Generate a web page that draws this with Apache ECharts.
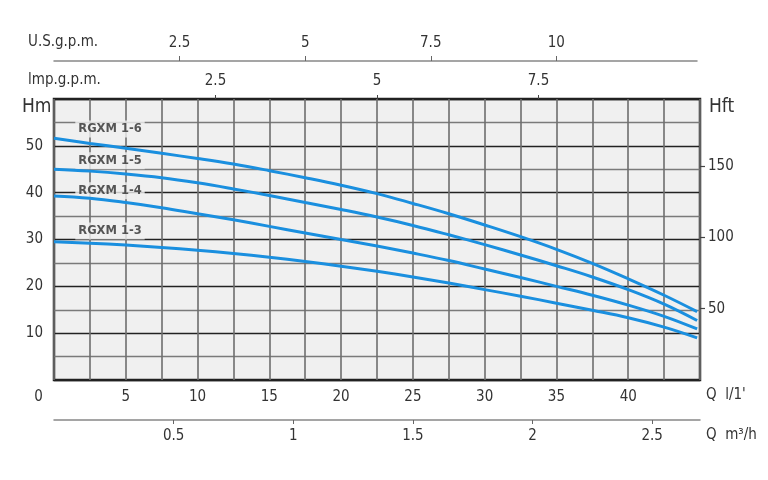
<!DOCTYPE html>
<html>
<head>
<meta charset="utf-8">
<script src="https://cdn.jsdelivr.net/npm/echarts@6/dist/echarts.min.js"></script>
<style>html,body{margin:0;padding:0;background:#fff;}#c{width:768px;height:480px;}</style>
</head>
<body>
<div id="c"></div>
<script>
// ---- data ----
const flowLmin = [0, 2.5, 5, 7.5, 10, 12.5, 15, 17.5, 20, 22.5, 25, 27.5, 30, 32.5, 35, 37.5, 40, 42.5, 44.8];
const rgxm16 = [51.6, 50.5, 49.5, 48.4, 47.3, 46.1, 44.7, 43.2, 41.6, 39.8, 37.7, 35.5, 33.1, 30.6, 27.9, 24.9, 21.6, 18.1, 14.6];
const rgxm15 = [45.0, 44.6, 44.0, 43.2, 42.1, 40.8, 39.4, 37.9, 36.4, 34.8, 33.0, 31.0, 28.9, 26.7, 24.4, 22.0, 19.3, 16.2, 12.7];
const rgxm14 = [39.3, 38.8, 37.9, 36.8, 35.5, 34.2, 32.8, 31.4, 30.0, 28.6, 27.1, 25.5, 23.7, 21.9, 20.0, 18.1, 16.0, 13.6, 10.9];
const rgxm13 = [29.5, 29.2, 28.8, 28.3, 27.7, 27.0, 26.2, 25.3, 24.3, 23.2, 22.0, 20.7, 19.3, 17.9, 16.4, 14.9, 13.3, 11.3, 9.0];
const seriesNames = ['RGXM 1-6', 'RGXM 1-5', 'RGXM 1-4', 'RGXM 1-3'];
// label anchor points (Q l/min, H m)
const labelQ = [3.9, 3.9, 3.9, 3.9];
const labelH = [53.6, 46.8, 40.4, 31.8];
// tick labels / axis ranges
const lminTicks = [0, 5, 10, 15, 20, 25, 30, 35, 40];
const hmTicks = [10, 20, 30, 40, 50];
const m3hTickRange = [0.5, 2.5, 0.5];   // first, last, step
const usTickRange = [2.5, 10, 2.5];
const impTickRange = [2.5, 7.5, 2.5];
const hftTickRange = [50, 150, 50];
const axisTitles = { us: 'U.S.g.p.m.', imp: 'lmp.g.p.m.', hm: 'Hm', hft: 'Hft', qlmin: "Q  l/1'", qm3h: 'Q  m³/h' };

// unit scales (l/min full scale 0..45, metres 0..60)
const Q_MAX = 45, H_MAX = 60;
const IMP_MAX = 10, US_MAX = 12.8, M3H_MAX = 2.7, FT_PER_M = 3.28084;

const FONT = "'DejaVu Sans Condensed', 'DejaVu Sans', sans-serif";
const TXT = '#333';
const BLUE = '#1a8fdf';

// main plot box
const PL = 54, PT = 99, PW = 646, PH = 281;
const USW = 643;

const curves = [rgxm16, rgxm15, rgxm14, rgxm13];
const lineSeries = curves.map((arr, i) => ({
  type: 'line', name: seriesNames[i], xAxisIndex: 0, yAxisIndex: 0,
  smooth: 0.4, symbol: 'none', silent: true,
  lineStyle: { color: BLUE, width: 3 },
  data: flowLmin.map((q, k) => [q, arr[k]]),
  z: 3
}));
const labelSeries = {
  type: 'scatter', xAxisIndex: 0, yAxisIndex: 0, symbolSize: 0, silent: true, z: 2,
  data: seriesNames.map((n, i) => ({ value: [labelQ[i], labelH[i]], name: n })),
  label: {
    show: true, position: 'inside', formatter: p => p.name,
    fontFamily: "'DejaVu Sans', sans-serif", fontWeight: 'bold', fontSize: 11.5, color: '#2e2e2e',
    backgroundColor: '#f0f0f0', padding: [3, 3, 2, 3]
  }
};

const lbl = (extra) => Object.assign({ fontFamily: FONT, fontSize: 15, color: TXT }, extra);
const noLine = { show: false, onZero: false };
const hidden = (g) => ({ type: 'value', gridIndex: g, show: false, min: 0, max: 1, axisLine: noLine });

// sub-grids so that ticks land only on the labelled values
const impL = PL + impTickRange[0] / IMP_MAX * PW, impW = (impTickRange[1] - impTickRange[0]) / IMP_MAX * PW;
const usL = PL + usTickRange[0] / US_MAX * USW, usW = (usTickRange[1] - usTickRange[0]) / US_MAX * USW;
const m3L = PL + m3hTickRange[0] / M3H_MAX * PW, m3W = (m3hTickRange[1] - m3hTickRange[0]) / M3H_MAX * PW;
const pxPerM = PH / H_MAX;
const ftTop = PT + PH - hftTickRange[1] / FT_PER_M * pxPerM;
const ftH = (hftTickRange[1] - hftTickRange[0]) / FT_PER_M * pxPerM;

const chart = echarts.init(document.getElementById('c'), null, { renderer: 'canvas' });
chart.setOption({
  animation: false,
  backgroundColor: '#fff',
  grid: [
    { left: PL, top: PT, width: PW, height: PH, show: true, backgroundColor: '#f0f0f0', borderColor: '#222', borderWidth: 2.5, z: 0 }, // 0 main
    { left: PL, top: 20, width: USW, height: 41 },           // 1 US line
    { left: usL, top: 20, width: usW, height: 41 },          // 2 US ticks
    { left: impL, top: PT, width: impW, height: PH },        // 3 imp ticks
    { left: PL, top: ftTop, width: PW, height: ftH },        // 4 ft ticks
    { left: PL, top: 380, width: PW, height: 40 },           // 5 m3/h line
    { left: m3L, top: 380, width: m3W, height: 40 }          // 6 m3/h ticks
  ],
  xAxis: [
    { type: 'value', gridIndex: 0, position: 'bottom', min: 0, max: Q_MAX, interval: 2.5,
      axisLine: noLine, axisTick: { show: false },
      splitLine: { show: true, lineStyle: { color: '#6e6e6e', width: 1.6 } },
      axisLabel: lbl({ margin: 10, customValues: lminTicks,
        formatter: v => v === 0 ? '{z|0}' : String(v),
        rich: { z: { fontFamily: FONT, fontSize: 15, color: TXT, padding: [0, 31, 0, 0] } } }) },
    { type: 'value', gridIndex: 1, position: 'bottom', min: 0, max: US_MAX,
      axisLine: { show: true, onZero: false, lineStyle: { color: '#888', width: 1.5 } },
      axisTick: { show: false }, axisLabel: { show: false }, splitLine: { show: false } },
    { type: 'value', gridIndex: 2, position: 'bottom', min: usTickRange[0], max: usTickRange[1], interval: usTickRange[2],
      axisLine: noLine,
      axisTick: { show: true, inside: true, length: 5, lineStyle: { color: '#666', width: 1 } },
      splitLine: { show: false },
      axisLabel: lbl({ inside: true, margin: 10, formatter: v => String(v) }) },
    { type: 'value', gridIndex: 3, position: 'top', min: impTickRange[0], max: impTickRange[1], interval: impTickRange[2],
      axisLine: noLine,
      axisTick: { show: true, length: 4, lineStyle: { color: '#444', width: 1 } },
      splitLine: { show: false },
      axisLabel: lbl({ margin: 10, formatter: v => String(v) }) },
    hidden(4),
    { type: 'value', gridIndex: 5, position: 'bottom', min: 0, max: M3H_MAX,
      axisLine: { show: true, onZero: false, lineStyle: { color: '#888', width: 1.5 } },
      axisTick: { show: false }, axisLabel: { show: false }, splitLine: { show: false } },
    { type: 'value', gridIndex: 6, position: 'bottom', min: m3hTickRange[0], max: m3hTickRange[1], interval: m3hTickRange[2],
      axisLine: noLine,
      axisTick: { show: true, length: 4, lineStyle: { color: '#666', width: 1 } },
      splitLine: { show: false },
      axisLabel: lbl({ margin: 9, formatter: v => String(v) }) }
  ],
  yAxis: [
    { type: 'value', gridIndex: 0, position: 'left', min: 0, max: H_MAX, interval: 5,
      axisLine: noLine, axisTick: { show: false },
      splitLine: { show: true, lineStyle: { color: ['#222', '#7a7a7a'], width: 1.3 } },
      axisLabel: lbl({ margin: 11, customValues: hmTicks, formatter: v => String(v) }) },
    hidden(1), hidden(2), hidden(3),
    { type: 'value', gridIndex: 4, position: 'right', min: hftTickRange[0], max: hftTickRange[1], interval: hftTickRange[2],
      axisLine: noLine,
      axisTick: { show: true, length: 5, lineStyle: { color: '#444', width: 1.2 } },
      splitLine: { show: false },
      axisLabel: lbl({ margin: 8, formatter: v => String(v) }) },
    hidden(5), hidden(6)
  ],
  graphic: [
    { type: 'text', left: 28, top: 35, style: { text: axisTitles.us, font: '15px ' + FONT, fill: TXT } },
    { type: 'text', left: 28, top: 73, style: { text: axisTitles.imp, font: '15px ' + FONT, fill: TXT } },
    { type: 'text', left: 22, top: 98, style: { text: axisTitles.hm, font: '19px ' + FONT, fill: TXT } },
    { type: 'text', left: 709, top: 98, style: { text: axisTitles.hft, font: '19px ' + FONT, fill: TXT } },
    { type: 'text', left: 706, top: 388, style: { text: axisTitles.qlmin, font: '15px ' + FONT, fill: TXT } },
    { type: 'text', left: 706, top: 428, style: { text: axisTitles.qm3h, font: '15px ' + FONT, fill: TXT } }
  ],
  series: lineSeries.concat([labelSeries])
});
</script>
</body>
</html>
